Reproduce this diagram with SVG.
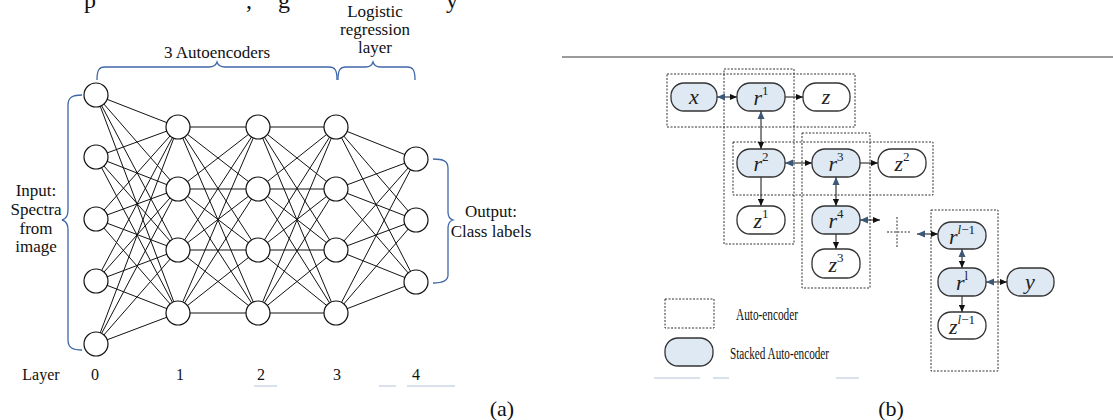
<svg xmlns="http://www.w3.org/2000/svg" width="1113" height="420" viewBox="0 0 1113 420">
  <style>
    .t { font-family: "Liberation Serif", "Times New Roman", serif; fill: #111; }
    .neuron { fill: #fff; stroke: #111; stroke-width: 1.2; }
    .wire { fill: none; stroke: #111; stroke-width: 1; }
    .brace { fill: none; stroke: #3f67a8; stroke-width: 1.3; }
    .ae { fill: none; stroke: #333; stroke-width: 1; stroke-dasharray: 2 1.5; }
    .sae { fill: #dfe9f4; stroke: #333; stroke-width: 1.3; }
    .out { fill: #fff; stroke: #333; stroke-width: 1.3; }
    .lb { font-family: "Liberation Serif", "Times New Roman", serif; font-style: italic; font-size: 22px; fill: #222; text-anchor: middle; }
    .sup { font-size: 13px; font-style: normal; }
    .arr { fill: none; stroke: #111; stroke-width: 1; }
    .faint { stroke: #cdd8e6; stroke-width: 1.5; }
  </style>
  <defs>
    <marker id="tipK" viewBox="0 0 8 8" refX="8" refY="4" markerWidth="7" markerHeight="7" markerUnits="userSpaceOnUse" orient="auto">
      <path d="M0,0.5 L8,4 L0,7.5 z" fill="#111"/>
    </marker>
    <marker id="tipB" viewBox="0 0 8 8" refX="8" refY="4" markerWidth="8" markerHeight="8" markerUnits="userSpaceOnUse" orient="auto-start-reverse">
      <path d="M0,0.5 L8,4 L0,7.5 z" fill="#3d5877"/>
    </marker>
  </defs>

  <rect width="1113" height="420" fill="#fff"/>

  <!-- descenders of the running text line above -->
  <g class="t" font-size="24">
    <text x="84" y="8">p</text>
    <text x="246" y="8">,</text>
    <text x="278" y="8">g</text>
    <text x="446" y="8">y</text>
  </g>

  <!-- ===== (a) network ===== -->
  <g id="a-connectors">
    <path class="wire" d="M96 95L178 127M96 95L178 189M96 95L178 250M96 95L178 313
      M96 157L178 127M96 157L178 189M96 157L178 250M96 157L178 313
      M96 219L178 127M96 219L178 189M96 219L178 250M96 219L178 313
      M96 281L178 127M96 281L178 189M96 281L178 250M96 281L178 313
      M96 344L178 127M96 344L178 189M96 344L178 250M96 344L178 313"/>
    <path class="wire" d="M178 127L258 127M178 127L258 189M178 127L258 250M178 127L258 313
      M178 189L258 127M178 189L258 189M178 189L258 250M178 189L258 313
      M178 250L258 127M178 250L258 189M178 250L258 250M178 250L258 313
      M178 313L258 127M178 313L258 189M178 313L258 250M178 313L258 313"/>
    <path class="wire" d="M258 127L336 127M258 127L336 189M258 127L336 250M258 127L336 313
      M258 189L336 127M258 189L336 189M258 189L336 250M258 189L336 313
      M258 250L336 127M258 250L336 189M258 250L336 250M258 250L336 313
      M258 313L336 127M258 313L336 189M258 313L336 250M258 313L336 313"/>
    <path class="wire" d="M336 127L416 159M336 127L416 220M336 127L416 282
      M336 189L416 159M336 189L416 220M336 189L416 282
      M336 250L416 159M336 250L416 220M336 250L416 282
      M336 313L416 159M336 313L416 220M336 313L416 282"/>
  </g>

  <g id="layer0">
    <circle class="neuron" cx="96" cy="95" r="12"/>
    <circle class="neuron" cx="96" cy="157" r="12"/>
    <circle class="neuron" cx="96" cy="219" r="12"/>
    <circle class="neuron" cx="96" cy="281" r="12"/>
    <circle class="neuron" cx="96" cy="344" r="12"/>
  </g>
  <g id="layer1">
    <circle class="neuron" cx="178" cy="127" r="12"/>
    <circle class="neuron" cx="178" cy="189" r="12"/>
    <circle class="neuron" cx="178" cy="250" r="12"/>
    <circle class="neuron" cx="178" cy="313" r="12"/>
  </g>
  <g id="layer2">
    <circle class="neuron" cx="258" cy="127" r="12"/>
    <circle class="neuron" cx="258" cy="189" r="12"/>
    <circle class="neuron" cx="258" cy="250" r="12"/>
    <circle class="neuron" cx="258" cy="313" r="12"/>
  </g>
  <g id="layer3">
    <circle class="neuron" cx="336" cy="127" r="12"/>
    <circle class="neuron" cx="336" cy="189" r="12"/>
    <circle class="neuron" cx="336" cy="250" r="12"/>
    <circle class="neuron" cx="336" cy="313" r="12"/>
  </g>
  <g id="layer4">
    <circle class="neuron" cx="416" cy="159" r="12"/>
    <circle class="neuron" cx="416" cy="220" r="12"/>
    <circle class="neuron" cx="416" cy="282" r="12"/>
  </g>

  <g id="a-braces">
    <path class="brace" d="M97 80C97 70 99 67 105 67L209 67C214 67 216 65 217 62C218 65 220 67 225 67L329 67C335 67 337 70 337 80"/>
    <path class="brace" d="M338 80C338 70 340 67 346 67L366 67C370 67 372 65 373 62C374 65 376 67 380 67L407 67C413 67 415 70 415 80"/>
    <path class="brace" d="M82 95C73 95 68 97 68 105L68 210C68 216 66 219 62 220C66 221 68 224 68 230L68 340C68 348 73 350 82 350"/>
    <path class="brace" d="M433 159C443 159 448 161 448 168L448 212C448 217 450 219 453 220C450 221 448 223 448 228L448 275C448 281 443 283 433 283"/>
  </g>

  <g id="a-labels" class="t" font-size="17" text-anchor="middle">
    <text x="375" y="17">Logistic</text>
    <text x="375" y="35">regression</text>
    <text x="375" y="53">layer</text>
    <text x="217" y="58">3 Autoencoders</text>
    <text x="36" y="196">Input:</text>
    <text x="36" y="215">Spectra</text>
    <text x="36" y="234">from</text>
    <text x="36" y="252">image</text>
    <text x="491" y="217">Output:</text>
    <text x="491" y="237">Class labels</text>
  </g>
  <g id="a-layer-row" class="t" font-size="16" text-anchor="middle">
    <text x="41" y="380">Layer</text>
    <text x="95" y="380">0</text>
    <text x="180" y="380">1</text>
    <text x="261" y="380">2</text>
    <text x="337" y="380">3</text>
    <text x="416" y="380">4</text>
  </g>
  <path class="faint" d="M254 386H277M379 386H396M407 386H455"/>
  <text class="t" x="502" y="416" font-size="22" text-anchor="middle">(a)</text>

  <!-- ===== (b) stacked auto-encoder ===== -->
  <path d="M562 57H1113" stroke="#7a7a7a" stroke-width="1.5"/>

  <g id="autoencoder-boxes">
    <rect class="ae" x="667" y="74" width="188" height="53"/>
    <rect class="ae" x="724" y="69" width="70" height="175"/>
    <rect class="ae" x="733" y="142" width="200" height="53"/>
    <rect class="ae" x="802" y="133" width="68" height="155"/>
    <rect class="ae" x="931" y="210" width="67" height="161"/>
  </g>

  <g id="b-connectors">
    <path class="arr" d="M717 97H737" marker-start="url(#tipB)" marker-end="url(#tipK)"/>
    <path class="arr" d="M785 97H803" marker-end="url(#tipK)"/>
    <path class="arr" d="M761 111V149" marker-start="url(#tipB)" marker-end="url(#tipK)"/>
    <path class="arr" d="M785 163H812" marker-start="url(#tipB)" marker-end="url(#tipK)"/>
    <path class="arr" d="M860 163H878" marker-end="url(#tipK)"/>
    <path class="arr" d="M761 177V206" marker-end="url(#tipK)"/>
    <path class="arr" d="M836 177V206" marker-start="url(#tipB)" marker-end="url(#tipK)"/>
    <path class="arr" d="M836 234V249" marker-end="url(#tipK)"/>
    <path class="arr" d="M860 220H880" marker-start="url(#tipB)" marker-end="url(#tipK)"/>
    <path class="ae" d="M897 217V248M887 232H910"/>
    <path class="arr" d="M917 234H938" marker-start="url(#tipB)" marker-end="url(#tipK)"/>
    <path class="arr" d="M962 249V268" marker-start="url(#tipB)" marker-end="url(#tipK)"/>
    <path class="arr" d="M986 282H1007" marker-start="url(#tipB)" marker-end="url(#tipK)"/>
    <path class="arr" d="M962 296V312" marker-end="url(#tipK)"/>
  </g>

  <g id="node-x"><rect class="sae" x="671" y="83" width="46" height="28" rx="13"/><text class="lb" x="694" y="104">x</text></g>
  <g id="node-r1"><rect class="sae" x="737" y="83" width="48" height="28" rx="13"/><text class="lb" x="761" y="105">r<tspan class="sup" dy="-10">1</tspan></text></g>
  <g id="node-z"><rect class="out" x="803" y="83" width="47" height="28" rx="13"/><text class="lb" x="826" y="104">z</text></g>
  <g id="node-r2"><rect class="sae" x="737" y="149" width="48" height="28" rx="13"/><text class="lb" x="761" y="171">r<tspan class="sup" dy="-10">2</tspan></text></g>
  <g id="node-r3"><rect class="sae" x="812" y="149" width="48" height="28" rx="13"/><text class="lb" x="836" y="171">r<tspan class="sup" dy="-10">3</tspan></text></g>
  <g id="node-z2"><rect class="out" x="878" y="149" width="48" height="28" rx="13"/><text class="lb" x="902" y="171">z<tspan class="sup" dy="-10">2</tspan></text></g>
  <g id="node-z1"><rect class="out" x="737" y="206" width="48" height="28" rx="13"/><text class="lb" x="761" y="228">z<tspan class="sup" dy="-10">1</tspan></text></g>
  <g id="node-r4"><rect class="sae" x="812" y="206" width="48" height="28" rx="13"/><text class="lb" x="836" y="228">r<tspan class="sup" dy="-10">4</tspan></text></g>
  <g id="node-z3"><rect class="out" x="812" y="249" width="48" height="29" rx="13"/><text class="lb" x="836" y="272">z<tspan class="sup" dy="-10">3</tspan></text></g>
  <g id="node-rl1"><rect class="sae" x="938" y="222" width="48" height="27" rx="13"/><text class="lb" x="962" y="244">r<tspan class="sup" dy="-10"><tspan font-style="italic">l</tspan>−1</tspan></text></g>
  <g id="node-rl"><rect class="sae" x="938" y="268" width="48" height="28" rx="13"/><text class="lb" x="962" y="290">r<tspan class="sup" dy="-10" font-style="italic">l</tspan></text></g>
  <g id="node-y"><rect class="sae" x="1007" y="268" width="47" height="28" rx="13"/><text class="lb" x="1030" y="289">y</text></g>
  <g id="node-zl1"><rect class="out" x="938" y="312" width="48" height="27" rx="13"/><text class="lb" x="962" y="334">z<tspan class="sup" dy="-10"><tspan font-style="italic">l</tspan>−1</tspan></text></g>

  <g id="legend">
    <rect class="ae" x="665" y="299" width="49" height="29"/>
    <text class="t" x="736" y="320" font-size="16" textLength="62" lengthAdjust="spacingAndGlyphs">Auto-encoder</text>
    <rect class="sae" x="665" y="338" width="48" height="28" rx="13"/>
    <text class="t" x="730" y="359" font-size="16" textLength="99" lengthAdjust="spacingAndGlyphs">Stacked Auto-encoder</text>
  </g>
  <path class="faint" d="M654 378H700M713 378H729M836 378H859"/>
  <text class="t" x="891" y="416" font-size="22" text-anchor="middle">(b)</text>
</svg>
